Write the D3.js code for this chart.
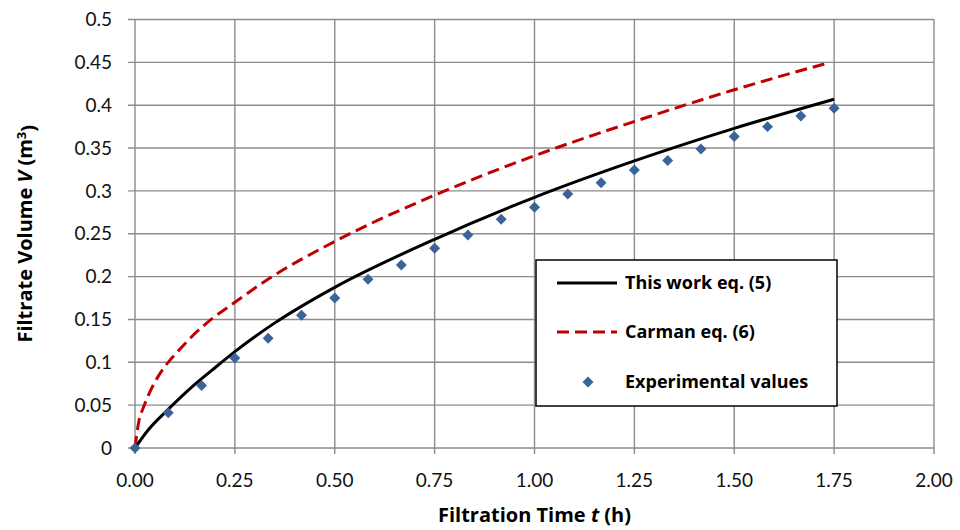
<!DOCTYPE html>
<html>
<head>
<meta charset="utf-8">
<script src="https://cdn.jsdelivr.net/npm/d3@7"></script>
<style>
  body { margin: 0; background: #fff; }
  text { font-family: Lato, "Open Sans", sans-serif; }
  .bold { font-family: "Open Sans", Lato, sans-serif; font-weight: bold; }
</style>
</head>
<body>
<div id="chart"></div>
<script>
// experimental points, every 5 min
const expTime = [0, 0.0833, 0.1667, 0.25, 0.3333, 0.4167, 0.5, 0.5833, 0.6667, 0.75, 0.8333,
  0.9167, 1.0, 1.0833, 1.1667, 1.25, 1.3333, 1.4167, 1.5, 1.5833, 1.6667, 1.75];
const expVol = [0, 0.041, 0.073, 0.105, 0.128, 0.155, 0.175, 0.197, 0.2135, 0.233, 0.2485,
  0.267, 0.281, 0.2965, 0.3095, 0.3245, 0.3355, 0.349, 0.3635, 0.375, 0.3875, 0.3965];

// This work eq. (5)
const modelTime = [0, 0.033, 0.083, 0.142, 0.192, 0.25, 0.35, 0.5, 0.75, 1.0, 1.25, 1.5, 1.75];
const modelVol = [0, 0.021, 0.045, 0.071, 0.0905, 0.1125, 0.146, 0.1875, 0.2435, 0.2925, 0.335, 0.373, 0.407];

// Carman eq. (6)
const carmanTime = [0, 0.01, 0.02, 0.04, 0.06, 0.083, 0.11, 0.14, 0.18, 0.25, 0.33, 0.5, 0.75, 1.0, 1.25, 1.5, 1.74];
const carmanVol = [0, 0.032, 0.046, 0.068, 0.085, 0.100, 0.114, 0.129, 0.146, 0.170, 0.196, 0.241, 0.295, 0.341, 0.381, 0.418, 0.450];

const xTicks = [0, 0.25, 0.5, 0.75, 1.0, 1.25, 1.5, 1.75, 2.0];
const yTicks = [0, 0.05, 0.1, 0.15, 0.2, 0.25, 0.3, 0.35, 0.4, 0.45, 0.5];

const legendNames = ["This work eq. (5)", "Carman eq. (6)", "Experimental values"];

const W = 960, H = 530;
const pLeft = 135, pRight = 934, pTop = 19.5, pBottom = 448;
const gridColor = "#8c8c8c";

const svg = d3.select("#chart").append("svg")
    .attr("width", W)
    .attr("height", H);

const x = d3.scaleLinear().domain([0, 2]).range([pLeft, pRight]);
const y = d3.scaleLinear().domain([0, 0.5]).range([pBottom, pTop]);

// grid
svg.append("g")
    .selectAll("line")
    .data(yTicks)
    .enter()
    .append("line")
    .attr("x1", pLeft - 7)
    .attr("x2", pRight)
    .attr("y1", d => y(d))
    .attr("y2", d => y(d))
    .attr("stroke", gridColor)
    .attr("stroke-width", 1.4);

svg.append("g")
    .selectAll("line")
    .data(xTicks)
    .enter()
    .append("line")
    .attr("x1", d => x(d))
    .attr("x2", d => x(d))
    .attr("y1", pTop)
    .attr("y2", pBottom + 6)
    .attr("stroke", gridColor)
    .attr("stroke-width", 1.4);

// tick labels
svg.append("g")
    .selectAll("text")
    .data(yTicks)
    .enter()
    .append("text")
    .attr("x", 112)
    .attr("y", d => y(d))
    .attr("dy", "0.35em")
    .attr("text-anchor", "end")
    .style("font-size", "19px")
    .attr("fill", "#111")
    .text(d => String(+d.toFixed(2)));

svg.append("g")
    .selectAll("text")
    .data(xTicks)
    .enter()
    .append("text")
    .attr("x", d => x(d))
    .attr("y", 487)
    .attr("text-anchor", "middle")
    .style("font-size", "19px")
    .attr("fill", "#111")
    .text(d => d3.format(".2f")(d));

// axis titles
const xt = svg.append("text")
    .attr("class", "bold")
    .attr("x", (pLeft + pRight) / 2)
    .attr("y", 522)
    .attr("text-anchor", "middle")
    .style("font-size", "20px");
xt.append("tspan").text("Filtration Time ");
xt.append("tspan").style("font-style", "italic").text("t");
xt.append("tspan").text(" (h)");

const yt = svg.append("text")
    .attr("class", "bold")
    .attr("transform", "translate(32," + ((pTop + pBottom) / 2) + ") rotate(-90)")
    .attr("text-anchor", "middle")
    .style("font-size", "20px");
yt.append("tspan").text("Filtrate Volume ");
yt.append("tspan").style("font-style", "italic").text("V");
yt.append("tspan").text(" (m");
yt.append("tspan").attr("dy", "-0.45em").style("font-size", "13px").text("3");
yt.append("tspan").attr("dy", "0.45em").text(")");

// curves
const line = d3.line()
    .x(d => x(d[0]))
    .y(d => y(d[1]))
    .curve(d3.curveMonotoneX);

svg.append("path")
    .datum(carmanTime.map((t, i) => [t, carmanVol[i]]))
    .attr("d", line)
    .attr("fill", "none")
    .attr("stroke", "#c00000")
    .attr("stroke-width", 3)
    .attr("stroke-dasharray", "12,6");

svg.append("path")
    .datum(modelTime.map((t, i) => [t, modelVol[i]]))
    .attr("d", line)
    .attr("fill", "none")
    .attr("stroke", "#000")
    .attr("stroke-width", 3);

const diamond = d3.symbol().type(d3.symbolSquare).size(60);

svg.append("g")
    .selectAll("path")
    .data(expTime.map((t, i) => [t, expVol[i]]))
    .enter()
    .append("path")
    .attr("d", diamond)
    .attr("transform", d => "translate(" + x(d[0]) + "," + y(d[1]) + ") rotate(45)")
    .attr("fill", "#3a6499");

// legend
const lg = svg.append("g");
lg.append("rect")
    .attr("x", 536)
    .attr("y", 260)
    .attr("width", 301)
    .attr("height", 146)
    .attr("fill", "#fff")
    .attr("stroke", "#000")
    .attr("stroke-width", 1.5);

const rows = [283, 332, 382];
lg.append("line")
    .attr("x1", 557).attr("x2", 617)
    .attr("y1", rows[0]).attr("y2", rows[0])
    .attr("stroke", "#000").attr("stroke-width", 3);
lg.append("line")
    .attr("x1", 557).attr("x2", 617)
    .attr("y1", rows[1]).attr("y2", rows[1])
    .attr("stroke", "#c00000").attr("stroke-width", 3)
    .attr("stroke-dasharray", "12,6");
lg.append("path")
    .attr("d", diamond)
    .attr("transform", "translate(588," + rows[2] + ") rotate(45)")
    .attr("fill", "#3a6499");

lg.selectAll("text.lbl")
    .data(legendNames)
    .enter()
    .append("text")
    .attr("class", "lbl bold")
    .attr("x", 625)
    .attr("y", (d, i) => rows[i])
    .attr("dy", "0.35em")
    .style("font-size", "18px")
    .text(d => d);
</script>
</body>
</html>
